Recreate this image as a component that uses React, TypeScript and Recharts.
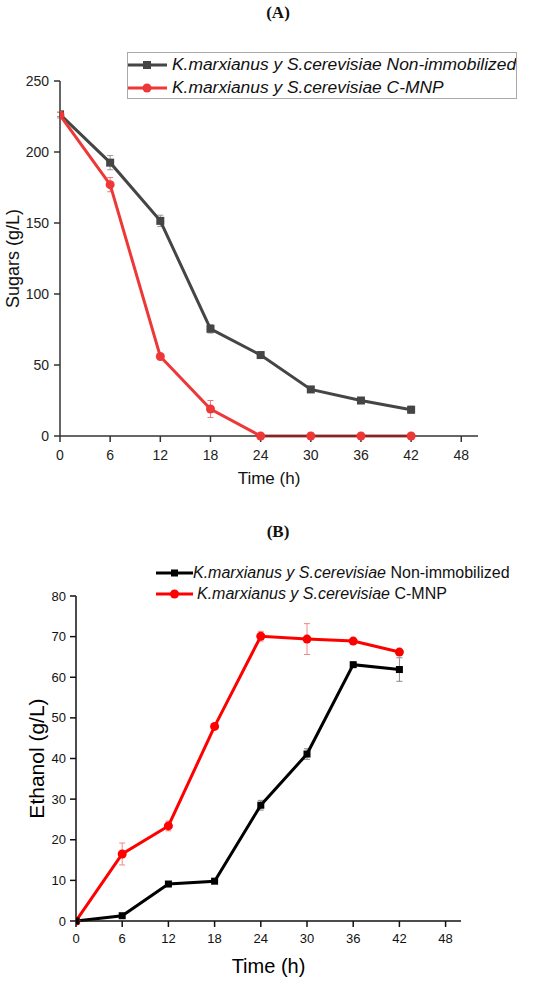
import { LineChart, Line, XAxis, YAxis, ErrorBar, Legend, Label } from 'recharts';

// sampling times (h)
const hours = [0, 6, 12, 18, 24, 30, 36, 42];
const timeTicks = [0, 6, 12, 18, 24, 30, 36, 42, 48];

// (A) sugars, g/L
const sugarTicks = [0, 50, 100, 150, 200, 250];
const sugarNonImm = [226.5, 192.5, 151.5, 75.5, 57, 32.8, 25, 18.5];
const sugarNonImmErr = [1.5, 5, 4, 3, 2, 1.5, 1.5, 2.5];
const sugarCmnp = [226, 177, 56, 19, 0, 0, 0, 0];
const sugarCmnpErr = [2, 5, 1.5, 6, 0, 0, 0, 0];

// (B) ethanol, g/L
const ethanolTicks = [0, 10, 20, 30, 40, 50, 60, 70, 80];
const ethanolNonImm = [0, 1.3, 9.1, 9.8, 28.5, 41.1, 63.1, 61.9];
const ethanolNonImmErr = [0, 0.3, 0.5, 0.4, 1.2, 1.3, 0.5, 2.9];
const ethanolCmnp = [0, 16.5, 23.4, 47.9, 70.1, 69.4, 68.9, 66.2];
const ethanolCmnpErr = [0, 2.7, 1.2, 0.5, 1.2, 3.8, 0.5, 0.4];

const strainPrefix = 'K.marxianus y S.cerevisiae';
const seriesNames = ['Non-immobilized', 'C-MNP'];

const SANS = '"Liberation Sans", Arial, sans-serif';
const SERIF = '"Liberation Serif", "Times New Roman", serif';

const sugarRows = hours.map((t, i) => ({
  t,
  nonImm: sugarNonImm[i],
  nonImmErr: sugarNonImmErr[i],
  cmnp: sugarCmnp[i],
  cmnpErr: sugarCmnpErr[i],
}));

const ethanolRows = hours.map((t, i) => ({
  t,
  nonImm: ethanolNonImm[i],
  nonImmErr: ethanolNonImmErr[i],
  cmnp: ethanolCmnp[i],
  cmnpErr: ethanolCmnpErr[i],
}));

const squareDot = (size: number, color: string) => (props: any) => {
  const { cx, cy, index } = props;
  if (cx == null || cy == null) return <g key={`sq-${index}`} />;
  return (
    <rect
      key={`sq-${index}`}
      x={cx - size / 2}
      y={cy - size / 2}
      width={size}
      height={size}
      fill={color}
    />
  );
};

function Swatch({ color, shape, w, h, size }: { color: string; shape: 'square' | 'circle'; w: number; h: number; size: number }) {
  return (
    <svg width={w} height={h} style={{ display: 'block', flex: 'none' }}>
      <line x1={0} y1={h / 2} x2={w} y2={h / 2} stroke={color} strokeWidth={3} />
      {shape === 'square' ? (
        <rect x={w / 2 - size / 2} y={h / 2 - size / 2} width={size} height={size} fill={color} />
      ) : (
        <circle cx={w / 2} cy={h / 2} r={size / 2} fill={color} />
      )}
    </svg>
  );
}

const colorsA = ['#454545', '#ee3737'];
const colorsB = ['#000000', '#ff0000'];

function LegendA() {
  return (
    <div
      style={{
        width: 390,
        height: 47,
        boxSizing: 'border-box',
        border: '1px solid #a9a9a9',
        background: '#fff',
        fontFamily: SANS,
        fontStyle: 'italic',
        fontSize: 17.4,
        color: '#111',
        whiteSpace: 'nowrap',
        overflow: 'hidden',
      }}
    >
      {seriesNames.map((name, i) => (
        <div key={name} style={{ display: 'flex', alignItems: 'center', height: 23, marginLeft: -1 }}>
          <Swatch color={colorsA[i]} shape={i === 0 ? 'square' : 'circle'} w={40} h={22} size={i === 0 ? 8 : 9} />
          <span style={{ marginLeft: 5 }}>{strainPrefix} {name}</span>
        </div>
      ))}
    </div>
  );
}

function LegendB() {
  return (
    <div style={{ fontFamily: SANS, fontSize: 16, color: '#111', whiteSpace: 'nowrap' }}>
      {seriesNames.map((name, i) => (
        <div key={name} style={{ display: 'flex', alignItems: 'center', height: 21 }}>
          <Swatch color={colorsB[i]} shape={i === 0 ? 'square' : 'circle'} w={37} h={20} size={i === 0 ? 7 : 9} />
          <span style={{ marginLeft: i === 0 ? 0 : 4 }}>
            <i>{strainPrefix}</i> {name}
          </span>
        </div>
      ))}
    </div>
  );
}

function SugarChart() {
  const axisColor = '#333';
  const tick = { fill: '#222', fontSize: 14, fontFamily: SANS };
  return (
    <LineChart width={550} height={490} data={sugarRows} margin={{ top: 81, right: 72, bottom: 0, left: 0 }}>
      <XAxis
        dataKey="t"
        type="number"
        domain={[0, 50]}
        ticks={timeTicks}
        allowDataOverflow
        height={54}
        stroke={axisColor}
        strokeWidth={1.5}
        tickSize={6}
        tickMargin={8}
        tick={tick}
      >
        <Label value="Time (h)" position="insideBottom" offset={6} style={{ fontSize: 17, fontFamily: SANS, fill: '#111' }} />
      </XAxis>
      <YAxis
        type="number"
        domain={[0, 250]}
        ticks={sugarTicks}
        width={60}
        stroke={axisColor}
        strokeWidth={1.5}
        tickSize={6}
        tickMargin={5}
        tick={tick}
      >
        <Label
          value="Sugars (g/L)"
          angle={-90}
          position="insideLeft"
          offset={13}
          textAnchor="middle"
          style={{ fontSize: 18, fontFamily: SANS, fill: '#111', textAnchor: 'middle' }}
        />
      </YAxis>
      <Legend
        layout="vertical"
        align="center"
        verticalAlign="middle"
        wrapperStyle={{ left: 127, top: 52, width: 390, height: 47 }}
        content={() => <LegendA />}
      />
      <Line
        dataKey="nonImm"
        stroke={colorsA[0]}
        strokeWidth={3}
        dot={squareDot(8, colorsA[0])}
        activeDot={false}
        isAnimationActive={false}
      >
        <ErrorBar dataKey="nonImmErr" direction="y" width={3} stroke="#9a9a9a" strokeWidth={1} />
      </Line>
      <Line
        dataKey="cmnp"
        stroke={colorsA[1]}
        strokeWidth={3}
        dot={{ r: 4.5, fill: colorsA[1], stroke: colorsA[1], strokeWidth: 0 }}
        activeDot={false}
        isAnimationActive={false}
      >
        <ErrorBar dataKey="cmnpErr" direction="y" width={3} stroke="#f07a7a" strokeWidth={1} />
      </Line>
    </LineChart>
  );
}

function EthanolChart() {
  const axisColor = '#111';
  const tick = { fill: '#111', fontSize: 13, fontFamily: SANS };
  return (
    <LineChart width={550} height={493} data={ethanolRows} margin={{ top: 106, right: 89, bottom: 0, left: 0 }}>
      <XAxis
        dataKey="t"
        type="number"
        domain={[0, 50]}
        ticks={timeTicks}
        allowDataOverflow
        height={62}
        stroke={axisColor}
        strokeWidth={1.5}
        tickSize={6}
        tickMargin={7}
        tick={tick}
      >
        <Label value="Time (h)" position="insideBottom" offset={10} style={{ fontSize: 20, fontFamily: SANS, fill: '#000' }} />
      </XAxis>
      <YAxis
        type="number"
        domain={[0, 80]}
        ticks={ethanolTicks}
        width={76}
        stroke={axisColor}
        strokeWidth={1.5}
        tickSize={6}
        tickMargin={4}
        tick={tick}
      >
        <Label
          value="Ethanol (g/L)"
          angle={-90}
          position="insideLeft"
          offset={37}
          textAnchor="middle"
          style={{ fontSize: 21, fontFamily: SANS, fill: '#000', textAnchor: 'middle' }}
        />
      </YAxis>
      <Legend
        layout="vertical"
        align="center"
        verticalAlign="middle"
        wrapperStyle={{ left: 156, top: 72, width: 380, height: 42 }}
        content={() => <LegendB />}
      />
      <Line
        dataKey="cmnp"
        stroke={colorsB[1]}
        strokeWidth={3}
        dot={{ r: 4.5, fill: colorsB[1], stroke: colorsB[1], strokeWidth: 0 }}
        activeDot={false}
        isAnimationActive={false}
      >
        <ErrorBar dataKey="cmnpErr" direction="y" width={3} stroke="#f08a8a" strokeWidth={1} />
      </Line>
      <Line
        dataKey="nonImm"
        stroke={colorsB[0]}
        strokeWidth={3}
        dot={squareDot(7, colorsB[0])}
        activeDot={false}
        isAnimationActive={false}
      >
        <ErrorBar dataKey="nonImmErr" direction="y" width={3} stroke="#8a8a8a" strokeWidth={1} />
      </Line>
    </LineChart>
  );
}

export default function App() {
  const title = { position: 'absolute' as const, left: 0, width: 550, textAlign: 'center' as const, fontFamily: SERIF, fontWeight: 700, fontSize: 17, color: '#111' };
  return (
    <div style={{ position: 'absolute', left: 0, top: 0, width: 550, height: 983, background: '#fff', overflow: 'hidden' }}>
      <div style={{ ...title, top: 3, left: 3 }}>(A)</div>
      <div style={{ position: 'absolute', left: 0, top: 0 }}>
        <SugarChart />
      </div>
      <div style={{ ...title, top: 522, left: 3 }}>(B)</div>
      <div style={{ position: 'absolute', left: 0, top: 490 }}>
        <EthanolChart />
      </div>
    </div>
  );
}
